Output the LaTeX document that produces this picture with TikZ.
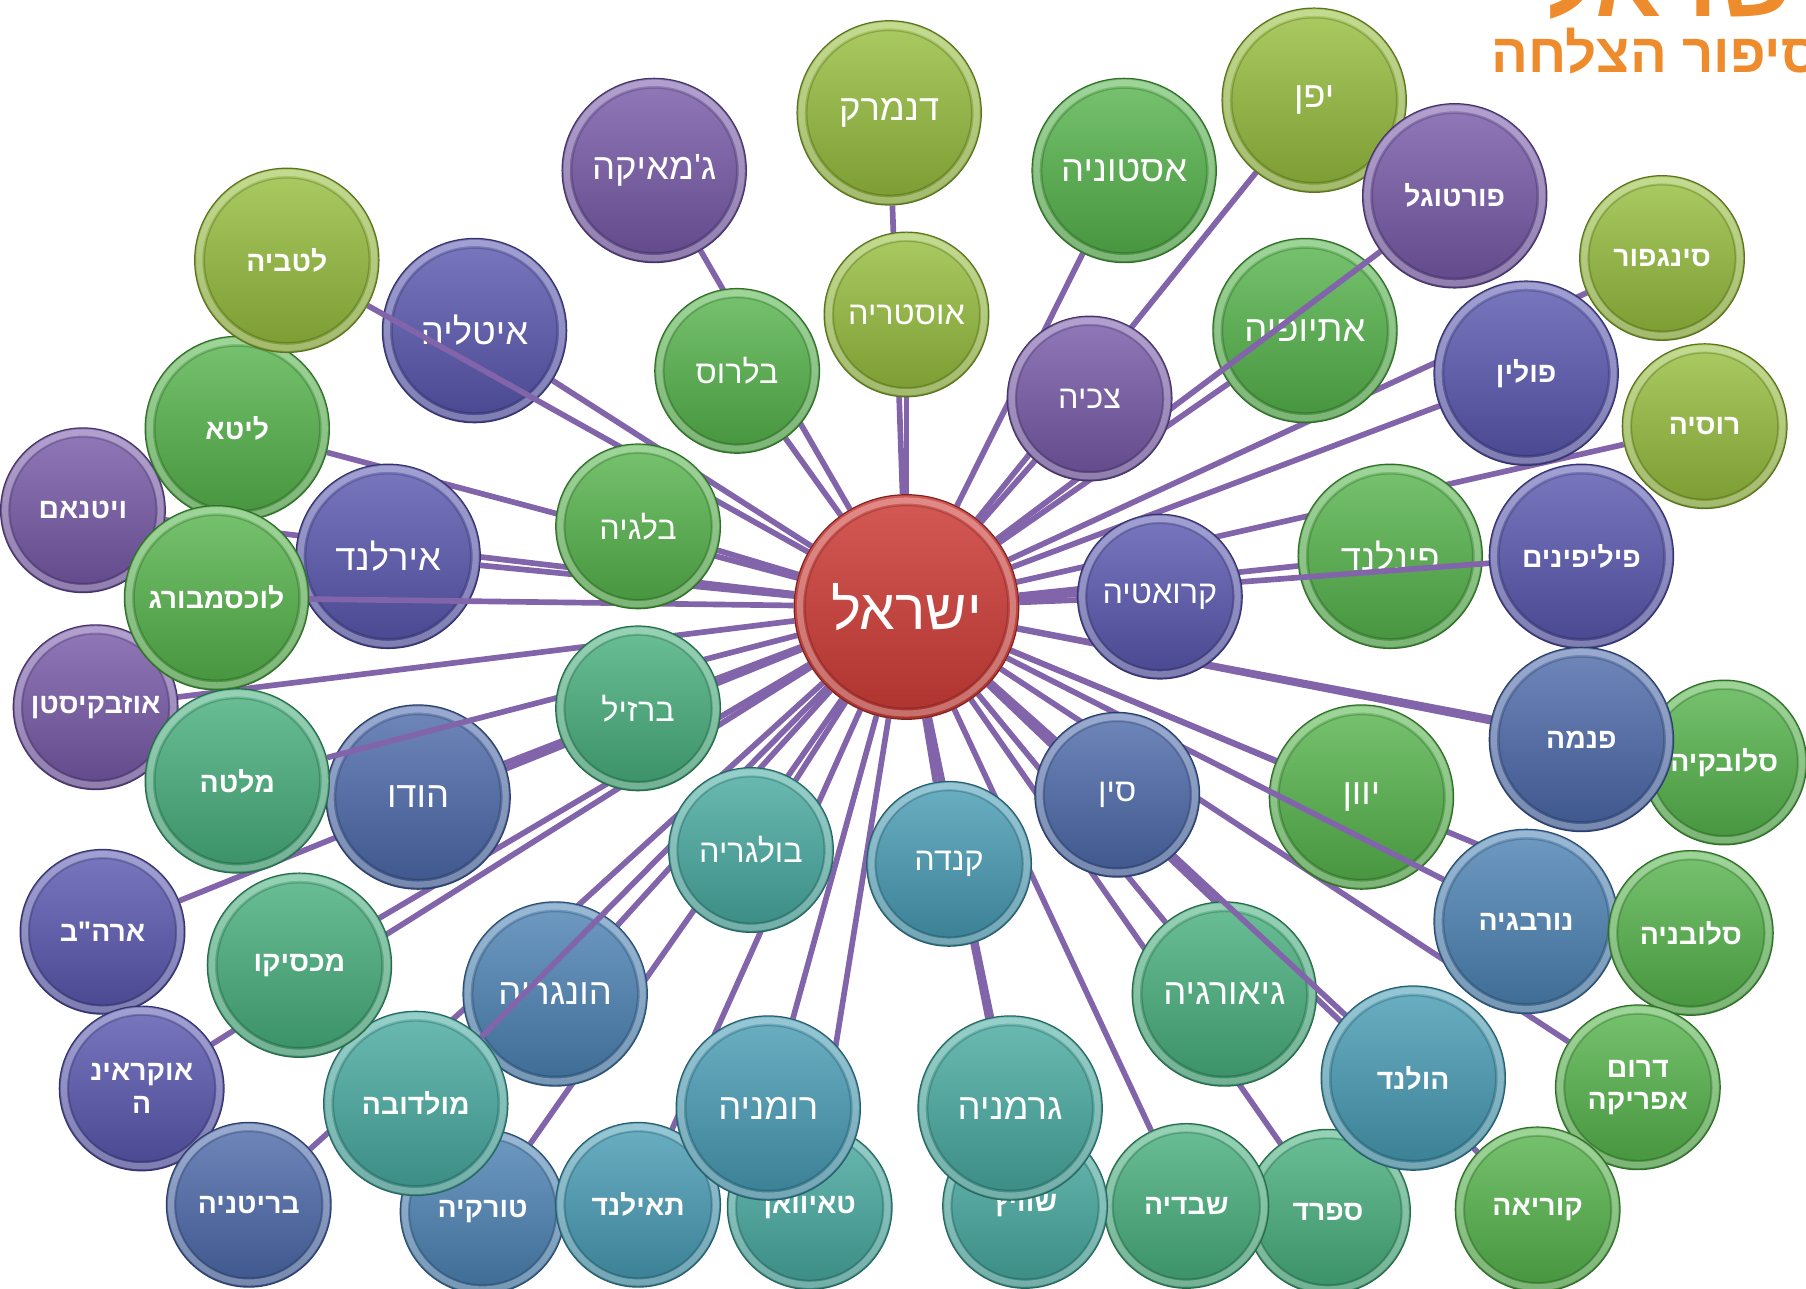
\documentclass[tikz,border=0pt]{standalone}
\usepackage{fontspec}
\newfontfamily\hebfont[Script=Hebrew]{Liberation Sans}
\TeXXeTstate=1
\usepackage{xcolor}
\usepackage{tikz}
\definecolor{cRed}{RGB}{205,60,55}
\definecolor{cLime}{RGB}{150,190,60}
\definecolor{cGreen}{RGB}{85,180,75}
\definecolor{cSea}{RGB}{70,175,125}
\definecolor{cTeal}{RGB}{70,170,160}
\definecolor{cCyan}{RGB}{70,155,180}
\definecolor{cSteel}{RGB}{75,130,180}
\definecolor{cBlue}{RGB}{75,105,170}
\definecolor{cIndigo}{RGB}{88,86,175}
\definecolor{cPurple}{RGB}{118,88,168}
\definecolor{cLink}{RGB}{130,100,170}
\definecolor{cOrange}{RGB}{238,140,45}
\pgfdeclarelayer{edges}
\pgfdeclarelayer{lowball}
\pgfdeclarelayer{overedge}
\pgfsetlayers{edges,lowball,overedge,main}
\newcommand{\rl}[1]{\beginR#1\endR}

\begin{document}
\begin{tikzpicture}[x=0.02cm, y=-0.02cm]
\tikzstyle{ball}=[circle, inner sep=0pt, text=white, line width=.6pt]
\tikzstyle{big}=[ball, minimum size=3.2cm, font=\hebfont\fontsize{18}{20}\selectfont,
  path picture={\draw[white, opacity=.3, line width=3pt] (path picture bounding box.center) circle[radius=1.52cm];
                \draw[black, opacity=.18, line width=.6pt] (path picture bounding box.center) circle[radius=1.43cm];}]
\tikzstyle{small}=[ball, minimum size=2.86cm, font=\hebfont\fontsize{16}{18}\selectfont,
  path picture={\draw[white, opacity=.3, line width=3pt] (path picture bounding box.center) circle[radius=1.35cm];
                \draw[black, opacity=.18, line width=.6pt] (path picture bounding box.center) circle[radius=1.27cm];}]
\tikzstyle{bold}=[font=\hebfont\bfseries\fontsize{14}{16}\selectfont]
\tikzstyle{redball}=[draw=cRed!60!black, top color=cRed!85!white, bottom color=cRed!85!black]
\tikzstyle{limeball}=[draw=cLime!60!black, top color=cLime!80!white, bottom color=cLime!82!black]
\tikzstyle{greenball}=[draw=cGreen!60!black, top color=cGreen!80!white, bottom color=cGreen!82!black]
\tikzstyle{seaball}=[draw=cSea!60!black, top color=cSea!80!white, bottom color=cSea!82!black]
\tikzstyle{tealball}=[draw=cTeal!60!black, top color=cTeal!80!white, bottom color=cTeal!82!black]
\tikzstyle{cyanball}=[draw=cCyan!60!black, top color=cCyan!80!white, bottom color=cCyan!82!black]
\tikzstyle{steelball}=[draw=cSteel!60!black, top color=cSteel!80!white, bottom color=cSteel!82!black]
\tikzstyle{blueball}=[draw=cBlue!60!black, top color=cBlue!80!white, bottom color=cBlue!82!black]
\tikzstyle{indigoball}=[draw=cIndigo!60!black, top color=cIndigo!80!white, bottom color=cIndigo!82!black]
\tikzstyle{purpleball}=[draw=cPurple!60!black, top color=cPurple!80!white, bottom color=cPurple!82!black]
\tikzstyle{link}=[draw=cLink, line width=2.8pt]
\useasboundingbox (0,0) rectangle (1568,1119);
\clip (0,0) rectangle (1568,1119);

\node[anchor=base east, inner sep=0pt, text=cOrange, font=\hebfont\bfseries\fontsize{48}{50}\selectfont] (title) at (1585,14) {\rl{ישראל}};
\node[anchor=base east, inner sep=0pt, text=cOrange, font=\hebfont\bfseries\fontsize{27}{28}\selectfont] (subtitle) at (1580,63) {\rl{סיפור הצלחה}};

\begin{pgfonlayer}{lowball}
\node[big, indigoball] (italy) at (412,287) {\rl{איטליה}};
\node[big, greenball] (ethiopia) at (1133,287) {\rl{אתיופיה}};
\node[big, greenball] (finland) at (1207,483) {\rl{פינלנד}};
\node[big, indigoball] (ireland) at (337,483) {\rl{אירלנד}};
\node[big, blueball] (india) at (363,692) {\rl{הודו}};
\node[big, greenball] (greece) at (1182,692) {\rl{יוון}};
\node[big, seaball] (georgia) at (1063,863) {\rl{גיאורגיה}};
\node[big, steelball] (hungary) at (482,863) {\rl{הונגריה}};
\end{pgfonlayer}

\node[big, limeball] (denmark) at (772,98) {\rl{דנמרק}};
\node[small, limeball] (austria) at (787,273) {\rl{אוסטריה}};
\node[big, purpleball] (jamaica) at (568,148) {\rl{ג'מאיקה}};
\node[small, greenball] (belarus) at (640,322) {\rl{בלרוס}};
\node[big, greenball] (estonia) at (976,148) {\rl{אסטוניה}};
\node[big, limeball] (japan) at (1141,87) {\rl{יפן}};
\node[big, bold, purpleball] (portugal) at (1263,170) {\rl{פורטוגל}};
\node[small, purpleball] (czech) at (946,346) {\rl{צכיה}};
\node[small, bold, limeball] (singapore) at (1443,224) {\rl{סינגפור}};
\node[big, bold, indigoball] (poland) at (1325,324) {\rl{פולין}};
\node[small, bold, limeball] (russia) at (1480,370) {\rl{רוסיה}};
\node[big, bold, indigoball] (philippines) at (1373,483) {\rl{פיליפינים}};
\node[small, indigoball] (croatia) at (1007,518) {\rl{קרואטיה}};
\node[small, bold, greenball] (slovakia) at (1497,662) {\rl{סלובקיה}};
\node[big, bold, blueball] (panama) at (1373,642) {\rl{פנמה}};
\node[small, blueball] (china) at (970,690) {\rl{סין}};
\node[big, bold, steelball] (norway) at (1325,800) {\rl{נורבגיה}};
\node[small, bold, greenball] (slovenia) at (1468,810) {\rl{סלובניה}};
\node[small, bold, greenball, align=center] (safrica) at (1422,944) {\rl{דרום}\\\rl{אפריקה}};
\node[small, bold, greenball] (korea) at (1335,1050) {\rl{קוריאה}};
\node[small, bold, seaball] (spain) at (1153,1052) {\rl{ספרד}};
\node[big, bold, cyanball] (holland) at (1227,936) {\rl{הולנד}};
\node[small, bold, seaball] (sweden) at (1030,1047) {\rl{שבדיה}};
\node[small, bold, tealball] (swiss) at (890,1047) {\rl{שוויץ}};
\node[big, tealball] (germany) at (877,962) {\rl{גרמניה}};
\node[small, cyanball] (canada) at (824,750) {\rl{קנדה}};
\node[small, tealball] (bulgaria) at (652,738) {\rl{בולגריה}};
\node[small, bold, steelball] (turkey) at (419,1052) {\rl{טורקיה}};
\node[small, bold, cyanball] (thailand) at (554,1046) {\rl{תאילנד}};
\node[small, bold, tealball] (taiwan) at (703,1048) {\rl{טאיוואן}};
\node[big, cyanball] (romania) at (667,962) {\rl{רומניה}};
\node[big, bold, tealball] (moldova) at (361,958) {\rl{מולדובה}};
\node[small, bold, indigoball] (usa) at (89,809) {\rl{ארה"ב}};
\node[small, bold, indigoball, align=center] (ukraine) at (123,945) {\rl{אוקראינ}\\\rl{ה}};
\node[small, bold, blueball] (britain) at (216,1046) {\rl{בריטניה}};
\node[big, bold, seaball] (mexico) at (260,838) {\rl{מכסיקו}};
\node[small, bold, purpleball] (vietnam) at (72,443) {\rl{ויטנאם}};
\node[big, bold, greenball] (lithuania) at (206,372) {\rl{ליטא}};
\node[small, bold, purpleball] (uzbek) at (83,614) {\rl{אוזבקיסטן}};
\node[big, bold, greenball] (lux) at (188,519) {\rl{לוכסמבורג}};
\node[big, bold, seaball] (malta) at (206,678) {\rl{מלטה}};
\node[small, seaball] (brazil) at (554,615) {\rl{ברזיל}};
\node[small, greenball] (belgium) at (554,457) {\rl{בלגיה}};
\node[big, bold, limeball] (latvia) at (249,226) {\rl{לטביה}};
\node[ball, redball, minimum size=3.9cm, font=\hebfont\fontsize{28}{30}\selectfont,
  path picture={\draw[white, opacity=.3, line width=3pt] (path picture bounding box.center) circle[radius=1.85cm];
                \draw[black, opacity=.18, line width=.6pt] (path picture bounding box.center) circle[radius=1.76cm];}] (isr) at (787,527) {\rl{ישראל}};

\begin{pgfonlayer}{edges}
\foreach \c in {denmark,austria,jamaica,belarus,estonia,japan,czech,ethiopia,singapore,poland,russia,finland,croatia,panama,slovakia,china,greece,slovenia,georgia,safrica,korea,spain,sweden,swiss,germany,canada,romania,taiwan,thailand,bulgaria,hungary,turkey,britain,ukraine,mexico,usa,india,uzbek,brazil,ireland,vietnam,lithuania,belgium,italy}
  \draw[link] (isr) -- (\c);
\end{pgfonlayer}
\begin{pgfonlayer}{overedge}
\foreach \c in {latvia,portugal,philippines,lux,malta,norway,holland,moldova}
  \draw[link] (isr) -- (\c);
\end{pgfonlayer}
\end{tikzpicture}
\end{document}
